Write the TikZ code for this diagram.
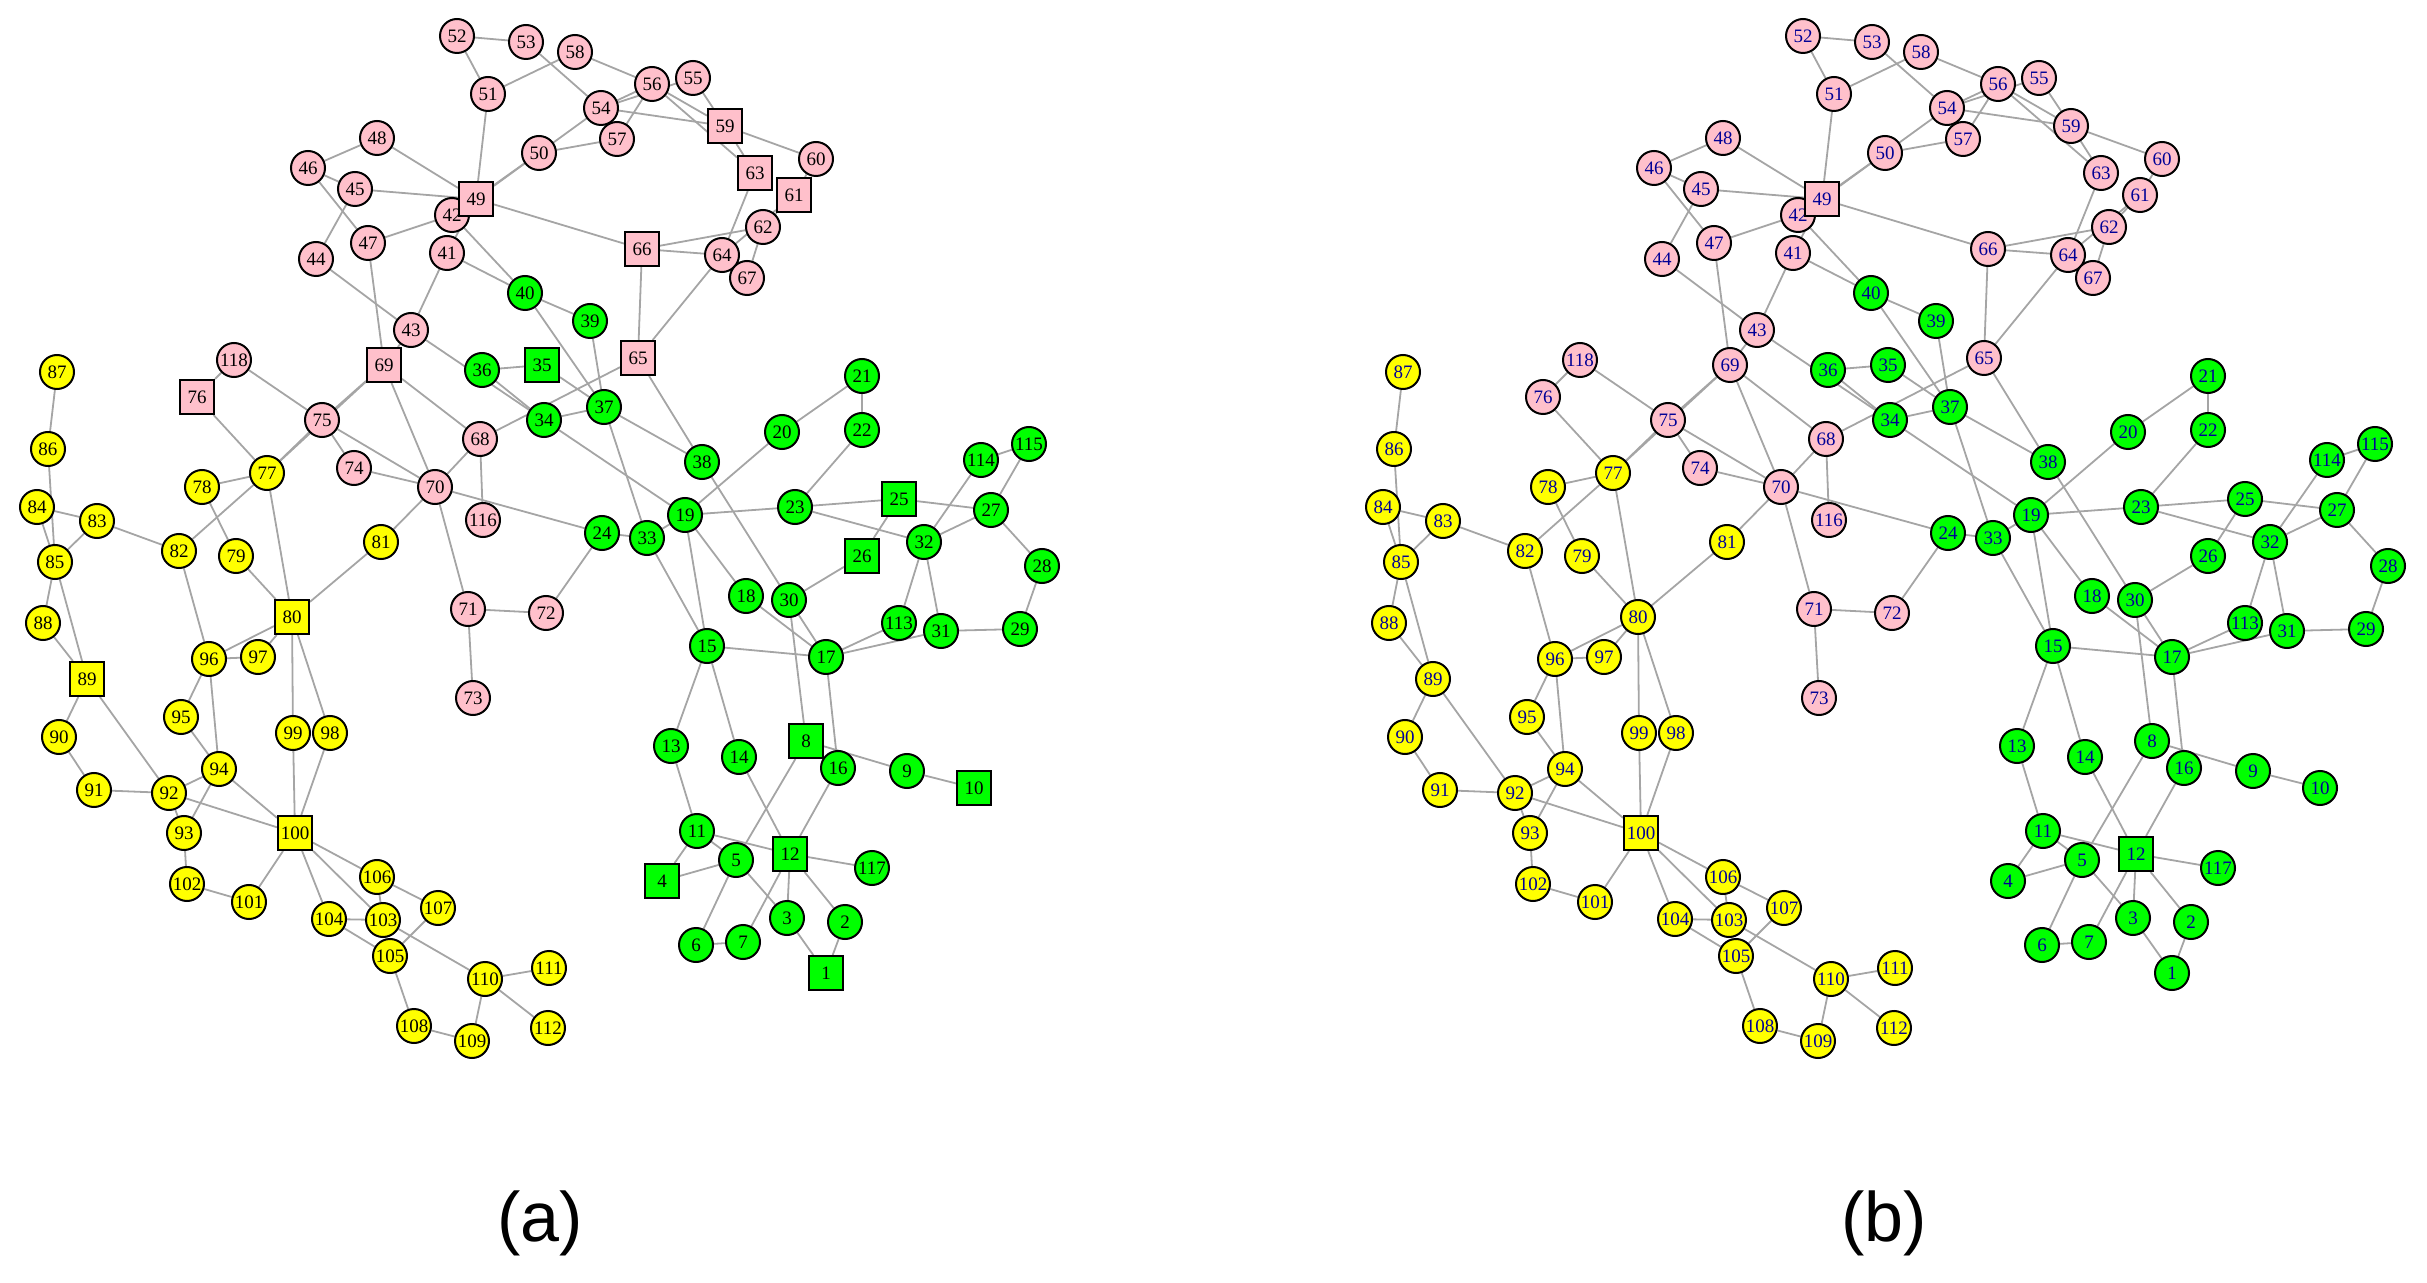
\documentclass[tikz,border=0pt]{standalone}
\usepackage{fontspec}
\setmainfont{Liberation Serif}
\newfontfamily\capfont{Liberation Sans}
\usetikzlibrary{backgrounds}
\definecolor{colp}{RGB}{255,192,203}
\definecolor{colg}{RGB}{0,255,0}
\definecolor{coly}{RGB}{255,255,0}
\definecolor{edgegray}{RGB}{165,165,165}
\definecolor{lblblue}{RGB}{0,0,150}
\tikzset{
 vtx/.style={draw=black, line width=1pt, minimum size=17pt, inner sep=0pt, font=\fontsize{9.5}{10}\selectfont},
 ci/.style={circle},
 sq/.style={rectangle},
 lnk/.style={draw=edgegray, line width=0.9pt},
 captxt/.style={font=\capfont\fontsize{35}{40}\selectfont, inner sep=0pt}
}
\def\nodelist{1/826/973/sq/ci/g, 2/845/922/ci/ci/g, 3/787/918/ci/ci/g, 4/662/881/sq/ci/g, 5/736/860/ci/ci/g, 6/696/945/ci/ci/g, 7/743/942/ci/ci/g, 8/806/741/sq/ci/g, 9/907/771/ci/ci/g, 10/974/788/sq/ci/g, 11/697/831/ci/ci/g, 12/790/854/sq/sq/g, 13/671/746/ci/ci/g, 14/739/757/ci/ci/g, 15/707/646/ci/ci/g, 16/838/768/ci/ci/g, 17/826/657/ci/ci/g, 18/746/596/ci/ci/g, 19/685/515/ci/ci/g, 20/782/432/ci/ci/g, 21/862/376/ci/ci/g, 22/862/430/ci/ci/g, 23/795/507/ci/ci/g, 24/602/533/ci/ci/g, 25/899/499/sq/ci/g, 26/862/556/sq/ci/g, 27/991/510/ci/ci/g, 28/1042/566/ci/ci/g, 29/1020/629/ci/ci/g, 30/789/600/ci/ci/g, 31/941/631/ci/ci/g, 32/924/542/ci/ci/g, 33/647/538/ci/ci/g, 34/544/420/ci/ci/g, 35/542/365/sq/ci/g, 36/482/370/ci/ci/g, 37/604/407/ci/ci/g, 38/702/462/ci/ci/g, 39/590/321/ci/ci/g, 40/525/293/ci/ci/g, 41/447/253/ci/ci/p, 42/452/215/ci/ci/p, 43/411/330/ci/ci/p, 44/316/259/ci/ci/p, 45/355/189/ci/ci/p, 46/308/168/ci/ci/p, 47/368/243/ci/ci/p, 48/377/138/ci/ci/p, 49/476/199/sq/sq/p, 50/539/153/ci/ci/p, 51/488/94/ci/ci/p, 52/457/36/ci/ci/p, 53/526/42/ci/ci/p, 54/601/108/ci/ci/p, 55/693/78/ci/ci/p, 56/652/84/ci/ci/p, 57/617/139/ci/ci/p, 58/575/52/ci/ci/p, 59/725/126/sq/ci/p, 60/816/159/ci/ci/p, 61/794/195/sq/ci/p, 62/763/227/ci/ci/p, 63/755/173/sq/ci/p, 64/722/255/ci/ci/p, 65/638/358/sq/ci/p, 66/642/249/sq/ci/p, 67/747/278/ci/ci/p, 68/480/439/ci/ci/p, 69/384/365/sq/ci/p, 70/435/487/ci/ci/p, 71/468/609/ci/ci/p, 72/546/613/ci/ci/p, 73/473/698/ci/ci/p, 74/354/468/ci/ci/p, 75/322/420/ci/ci/p, 76/197/397/sq/ci/p, 77/267/473/ci/ci/y, 78/202/487/ci/ci/y, 79/236/556/ci/ci/y, 80/292/617/sq/ci/y, 81/381/542/ci/ci/y, 82/179/551/ci/ci/y, 83/97/521/ci/ci/y, 84/37/507/ci/ci/y, 85/55/562/ci/ci/y, 86/48/449/ci/ci/y, 87/57/372/ci/ci/y, 88/43/623/ci/ci/y, 89/87/679/sq/ci/y, 90/59/737/ci/ci/y, 91/94/790/ci/ci/y, 92/169/793/ci/ci/y, 93/184/833/ci/ci/y, 94/219/769/ci/ci/y, 95/181/717/ci/ci/y, 96/209/659/ci/ci/y, 97/258/657/ci/ci/y, 98/330/733/ci/ci/y, 99/293/733/ci/ci/y, 100/295/833/sq/sq/y, 101/249/902/ci/ci/y, 102/187/884/ci/ci/y, 103/383/920/ci/ci/y, 104/329/919/ci/ci/y, 105/390/956/ci/ci/y, 106/377/877/ci/ci/y, 107/438/908/ci/ci/y, 108/414/1026/ci/ci/y, 109/472/1041/ci/ci/y, 110/485/979/ci/ci/y, 111/549/968/ci/ci/y, 112/548/1028/ci/ci/y, 113/899/623/ci/ci/g, 114/981/460/ci/ci/g, 115/1029/444/ci/ci/g, 116/483/520/ci/ci/p, 117/872/868/ci/ci/g, 118/234/360/ci/ci/p}
\def\edgelist{52/53, 52/51, 51/58, 51/49, 53/54, 58/56, 54/56, 54/55, 54/59, 56/59, 55/59, 54/50, 50/57, 56/57, 49/50, 42/50, 48/46, 48/49, 46/45, 46/47, 45/49, 45/44, 47/42, 47/69, 44/43, 42/49, 41/43, 41/40, 42/40, 41/49, 49/66, 66/65, 66/64, 66/62, 63/64, 61/64, 62/67, 60/61, 61/62, 59/60, 59/63, 56/63, 64/65, 65/68, 65/38, 37/38, 37/34, 37/33, 39/37, 40/37, 35/37, 36/35, 36/34, 43/34, 34/19, 69/75, 69/77, 75/77, 77/82, 69/70, 69/68, 43/69, 75/118, 75/74, 75/70, 74/70, 70/68, 68/116, 70/24, 70/71, 70/81, 71/72, 71/73, 72/24, 24/33, 33/15, 33/19, 19/20, 19/23, 19/18, 19/15, 38/30, 118/76, 76/77, 77/78, 77/80, 78/79, 79/80, 80/81, 80/96, 80/97, 80/99, 80/98, 82/83, 82/96, 96/97, 96/95, 96/94, 87/86, 86/85, 84/83, 84/85, 85/89, 83/85, 85/88, 88/89, 89/90, 89/92, 90/91, 91/92, 92/94, 92/93, 92/100, 94/93, 94/95, 94/100, 93/102, 102/101, 101/100, 99/100, 98/100, 100/106, 100/103, 100/104, 106/103, 106/107, 104/103, 104/105, 107/105, 103/110, 103/105, 105/108, 108/109, 109/110, 110/111, 110/112, 20/21, 21/22, 22/23, 23/25, 23/32, 25/27, 25/26, 26/30, 27/32, 27/28, 27/115, 114/115, 114/32, 32/113, 32/31, 28/29, 29/31, 31/17, 113/17, 17/15, 17/18, 17/30, 30/8, 17/16, 15/13, 15/14, 13/11, 14/12, 8/9, 8/5, 16/12, 9/10, 11/12, 11/5, 11/4, 4/5, 5/6, 5/3, 3/1, 6/7, 7/12, 12/3, 12/2, 12/117, 2/1, 40/39}
\begin{document}
\begin{tikzpicture}[x=0.5pt,y=-0.5pt]
\useasboundingbox (0,0) rectangle (2427,1283);
\foreach \i/\x/\y/\sa/\sb/\c in \nodelist {
  \node[vtx, \sa, fill=col\c] (a\i) at (\x,\y) {\i};
  \node[vtx, \sb, fill=col\c, text=lblblue] (b\i) at (\x+1346,\y) {\i};
}
\begin{pgfonlayer}{background}
\foreach \u/\v in \edgelist {
  \draw[lnk] (a\u) -- (a\v);
  \draw[lnk] (b\u) -- (b\v);
}
\end{pgfonlayer}
\node[captxt] (capa) at (540,1223) {(a)};
\node[captxt] (capb) at (1884,1223) {(b)};
\end{tikzpicture}
\end{document}
